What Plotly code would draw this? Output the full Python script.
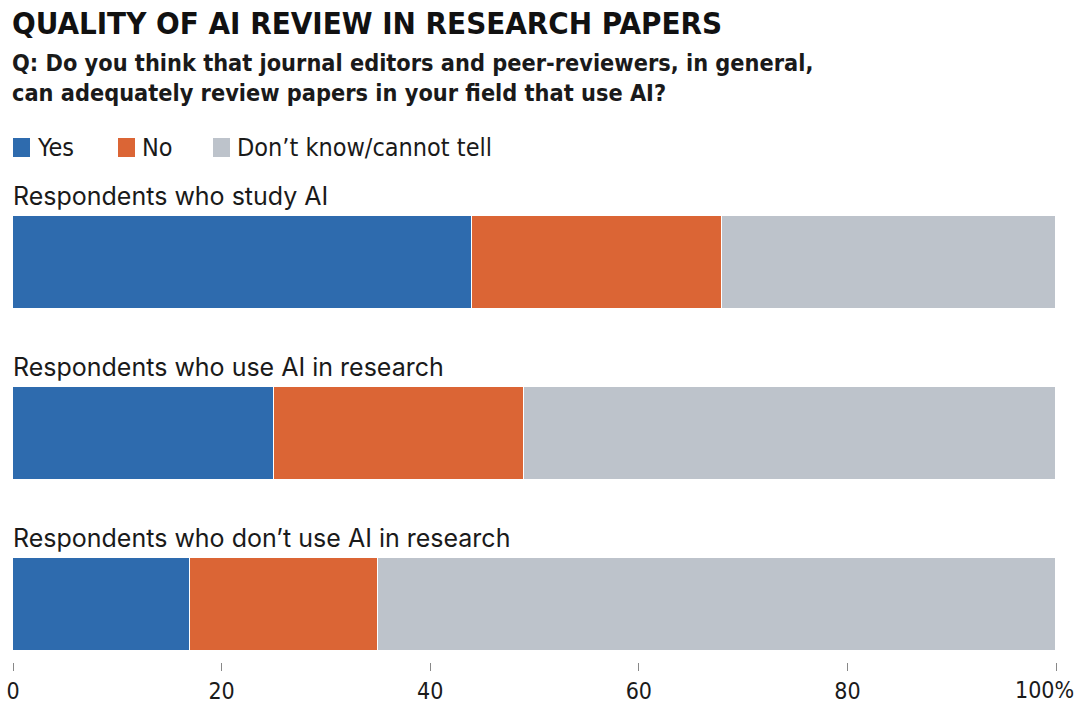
import plotly.graph_objects as go

categories = ["Respondents who study AI", "Respondents who use AI in research",
              "Respondents who don’t use AI in research"]
series_names = ["Yes", "No", "Don’t know/cannot tell"]
yes_vals = [44, 25, 17]
no_vals = [24, 24, 18]
dk_vals = [32, 51, 65]
tick_vals = [0, 20, 40, 60, 80, 100]
tick_labels = ["0", "20", "40", "60", "80", "100%"]

colors = ["#2E6BAE", "#DB6535", "#BDC3CB"]
COND = "DejaVu Sans Condensed, Liberation Sans Narrow, Arial Narrow, sans-serif"
REG = "Inter, Roboto, sans-serif"

W, H = 1080, 704
PT, PB = 200, 662  # plot top/bottom in px
def py(p):
    return (PB - p) / (PB - PT)

ypos = list(range(len(categories)))
fig = go.Figure()
for name, vals, col in zip(series_names, [yes_vals, no_vals, dk_vals], colors):
    fig.add_trace(go.Bar(
        name=name, x=vals, y=ypos, orientation="h", width=0.544,
        marker=dict(color=col, line=dict(color="white", width=1.5)),
        showlegend=False, hoverinfo="x+name"))

ann = []
for i, c in enumerate(categories):
    ann.append(dict(text=c, x=0, y=i - 0.272, xref="x", yref="y", xanchor="left",
                    yanchor="bottom", showarrow=False, yshift=3, xshift=-2,
                    font=dict(family=REG, size=25, color="#1a1a1a")))

ann.append(dict(text="<b>QUALITY OF AI REVIEW IN RESEARCH PAPERS</b>", x=0, y=py(3),
                xref="paper", yref="paper", xanchor="left", yanchor="top",
                showarrow=False, xshift=-3,
                font=dict(family=COND, size=31, color="#111")))
ann.append(dict(text="<b>Q: Do you think that journal editors and peer-reviewers, in general,<br>can adequately review papers in your field that use AI?</b>",
                x=0, y=py(47), xref="paper", yref="paper", xanchor="left", yanchor="top",
                align="left", showarrow=False, xshift=-3,
                font=dict(family=COND, size=23.3, color="#1a1a1a")))

# last tick label placed so it stays inside the page, as in the reference
shown_ticks = tick_labels[:-1] + [""]
ann.append(dict(text=tick_labels[-1], x=tick_vals[-1], y=py(690), xref="x", yref="paper",
                xanchor="right", yanchor="middle", showarrow=False, xshift=20,
                font=dict(family=COND, size=23, color="#1a1a1a")))

# legend
leg_x = [13, 118, 213]
shapes = []
for name, col, lx in zip(series_names, colors, leg_x):
    shapes.append(dict(type="rect", xref="paper", yref="paper",
                       x0=(lx - 13) / 1043, x1=(lx + 17 - 13) / 1043,
                       y0=py(157), y1=py(138), fillcolor=col, line=dict(width=0)))
    ann.append(dict(text=name, x=(lx + 22 - 13) / 1043, y=py(147.5), xref="paper", yref="paper",
                    xanchor="left", yanchor="middle", showarrow=False,
                    font=dict(family=COND, size=25, color="#1a1a1a")))

fig.update_layout(
    width=W, height=H, margin=dict(l=13, r=24, t=PT, b=H - PB, autoexpand=False),
    paper_bgcolor="white", plot_bgcolor="white", barmode="stack", bargap=0,
    annotations=ann, shapes=shapes,
    xaxis=dict(range=[0, 100], tickvals=tick_vals, ticktext=shown_ticks,
               showgrid=False, zeroline=False, showline=False, automargin=False,
               ticks="outside", ticklen=8, tickcolor="#888", tickwidth=1,
               ticklabeloverflow="allow", ticklabelstandoff=0,
               tickfont=dict(family=COND, size=23, color="#1a1a1a")),
    yaxis=dict(range=[2.339, -0.365], showticklabels=False, showgrid=False,
               zeroline=False, showline=False, automargin=False),
)
fig.write_html("out.html", config={"displayModeBar": False},
               post_script="document.body.style.margin='0';document.body.style.overflow='hidden';")
